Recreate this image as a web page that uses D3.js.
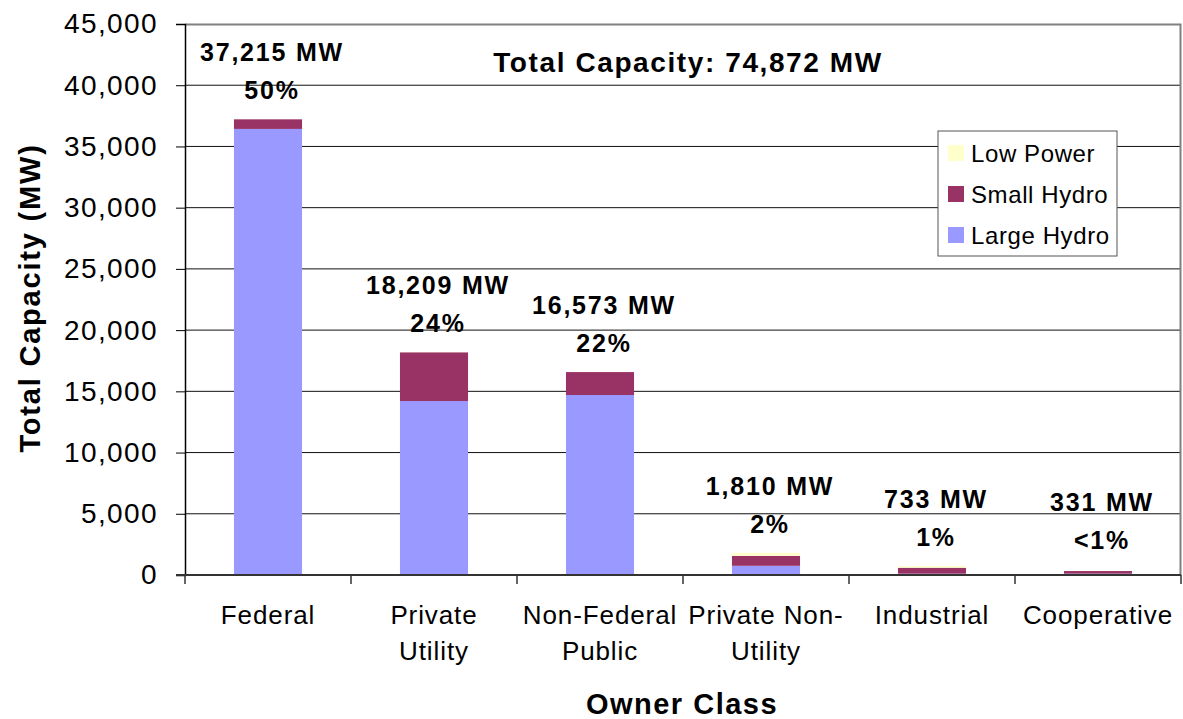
<!DOCTYPE html>
<html>
<head>
<meta charset="utf-8">
<script src="https://cdn.jsdelivr.net/npm/d3@7"></script>
<style>
  body { margin: 0; background: #fff; }
  text { font-family: Arial, "Liberation Sans", sans-serif; }
</style>
</head>
<body>
<script>
"use strict";

// data
let owners = [["Federal"], ["Private", "Utility"], ["Non-Federal", "Public"],
    ["Private Non-", "Utility"], ["Industrial"], ["Cooperative"]];
let largeHydro = [36430, 14210, 14700, 750, 110, 110];
let smallHydro = [785, 3980, 1873, 815, 485, 215];
let lowPower   = [0, 19, 0, 245, 138, 6];
let totals     = ["37,215 MW", "18,209 MW", "16,573 MW", "1,810 MW", "733 MW", "331 MW"];
let shares     = ["50%", "24%", "22%", "2%", "1%", "<1%"];
let yTicks     = [0, 5000, 10000, 15000, 20000, 25000, 30000, 35000, 40000, 45000];
let seriesNames = ["Large Hydro", "Small Hydro", "Low Power"];
let colors = {"Large Hydro": "#9999ff", "Small Hydro": "#993366", "Low Power": "#ffffcc"};

let W = 1183, H = 719;
let margin = {top: 24, right: 2, bottom: 144, left: 185},
    width = W - margin.left - margin.right,
    height = H - margin.top - margin.bottom;

let svg = d3.select("body").append("svg")
    .attr("width", W)
    .attr("height", H);

let g = svg.append("g")
    .attr("transform", "translate(" + margin.left + "," + margin.top + ")");

let x = d3.scaleBand()
    .domain(d3.range(owners.length))
    .range([0, width])
    .paddingInner(0.59)
    .paddingOuter(0.295);

let y = d3.scaleLinear()
    .domain([0, 45000])
    .range([height, 0]);

// gridlines
g.selectAll("line.grid")
    .data(yTicks.slice(1, -1))
    .enter().append("line")
    .attr("class", "grid")
    .attr("x1", 0).attr("x2", width)
    .attr("y1", d => y(d)).attr("y2", d => y(d))
    .attr("stroke", "#111")
    .attr("stroke-width", 1);

// plot border (top + right)
g.append("path")
    .attr("d", "M0,0.5H" + (width - 0.5) + "V" + height)
    .attr("fill", "none")
    .attr("stroke", "#808080")
    .attr("stroke-width", 2);

// stacked bars
let rows = owners.map((d, i) => ({
    i: i,
    "Large Hydro": largeHydro[i],
    "Small Hydro": smallHydro[i],
    "Low Power": lowPower[i]
}));
let stack = d3.stack().keys(seriesNames)(rows);

g.selectAll("g.layer")
    .data(stack)
    .enter().append("g")
    .attr("class", "layer")
    .attr("fill", d => colors[d.key])
    .selectAll("rect")
    .data(d => d)
    .enter().append("rect")
    .attr("x", d => x(d.data.i))
    .attr("width", x.bandwidth())
    .attr("y", d => y(d[1]))
    .attr("height", d => y(d[0]) - y(d[1]));

// y axis
let yAxis = g.append("g")
    .call(d3.axisLeft(y).tickValues(yTicks).tickSize(9).tickPadding(18)
        .tickFormat(d3.format(",")));
yAxis.select(".domain").attr("stroke", "#000").attr("stroke-width", 1.5);
yAxis.selectAll(".tick line").attr("stroke", "#000");
yAxis.selectAll(".tick text")
    .attr("font-size", 28)
    .attr("letter-spacing", 1.4)
    .attr("fill", "#000")
    .attr("font-family", "Arial, 'Liberation Sans', sans-serif");

// x axis baseline and boundary ticks
g.append("line")
    .attr("x1", -9).attr("x2", width)
    .attr("y1", height).attr("y2", height)
    .attr("stroke", "#333").attr("stroke-width", 2);

let bounds = d3.range(owners.length + 1).map(i => i * x.step());
g.selectAll("line.xtick")
    .data(bounds)
    .enter().append("line")
    .attr("class", "xtick")
    .attr("x1", d => d).attr("x2", d => d)
    .attr("y1", height).attr("y2", height + 9)
    .attr("stroke", "#333").attr("stroke-width", 1.5);

// category labels
let cat = g.selectAll("text.cat")
    .data(owners)
    .enter().append("text")
    .attr("class", "cat")
    .attr("text-anchor", "middle")
    .attr("font-size", 26)
    .attr("letter-spacing", 0.9)
    .attr("fill", "#000");
cat.selectAll("tspan")
    .data((d, i) => d.map(s => ({s: s, i: i})))
    .enter().append("tspan")
    .attr("x", d => x(d.i) + x.bandwidth() / 2)
    .attr("y", (d, j) => height + 49 + j * 36)
    .text(d => d.s);

// value labels above bars
let topOf = i => y(largeHydro[i] + smallHydro[i] + lowPower[i]);
let lab = g.selectAll("g.vlabel")
    .data(owners)
    .enter().append("g")
    .attr("class", "vlabel")
    .attr("text-anchor", "middle")
    .attr("font-size", 25)
    .attr("font-weight", "bold")
    .attr("letter-spacing", 1.8);
lab.append("text")
    .attr("x", (d, i) => x(i) + x.bandwidth() / 2 + 4)
    .attr("y", (d, i) => Math.min(topOf(i), y(500)) - 58)
    .text((d, i) => totals[i]);
lab.append("text")
    .attr("x", (d, i) => x(i) + x.bandwidth() / 2 + 4)
    .attr("y", (d, i) => Math.min(topOf(i), y(500)) - 20)
    .text((d, i) => shares[i]);

// title inside plot
g.append("text")
    .attr("x", 503)
    .attr("y", 48)
    .attr("text-anchor", "middle")
    .attr("font-size", 28)
    .attr("font-weight", "bold")
    .attr("letter-spacing", 1.6)
    .text("Total Capacity: 74,872 MW");

// legend
let legend = g.append("g")
    .attr("transform", "translate(753,107)");
legend.append("rect")
    .attr("width", 179).attr("height", 125)
    .attr("fill", "#fff")
    .attr("stroke", "#555").attr("stroke-width", 1);
let legendItems = ["Low Power", "Small Hydro", "Large Hydro"];
let li = legend.selectAll("g.item")
    .data(legendItems)
    .enter().append("g")
    .attr("class", "item")
    .attr("transform", (d, i) => "translate(10," + (22 + i * 41) + ")");
li.append("rect")
    .attr("y", -8).attr("width", 16).attr("height", 16)
    .attr("fill", d => colors[d]);
li.append("text")
    .attr("x", 23).attr("dy", "0.36em")
    .attr("font-size", 24)
    .attr("letter-spacing", 0.6)
    .text(d => d);

// axis titles
svg.append("text")
    .attr("transform", "translate(40,298) rotate(-90)")
    .attr("text-anchor", "middle")
    .attr("font-size", 29)
    .attr("font-weight", "bold")
    .attr("letter-spacing", 1.8)
    .text("Total Capacity (MW)");

svg.append("text")
    .attr("x", 682)
    .attr("y", 714)
    .attr("text-anchor", "middle")
    .attr("font-size", 29)
    .attr("font-weight", "bold")
    .attr("letter-spacing", 1.5)
    .text("Owner Class");
</script>
</body>
</html>
